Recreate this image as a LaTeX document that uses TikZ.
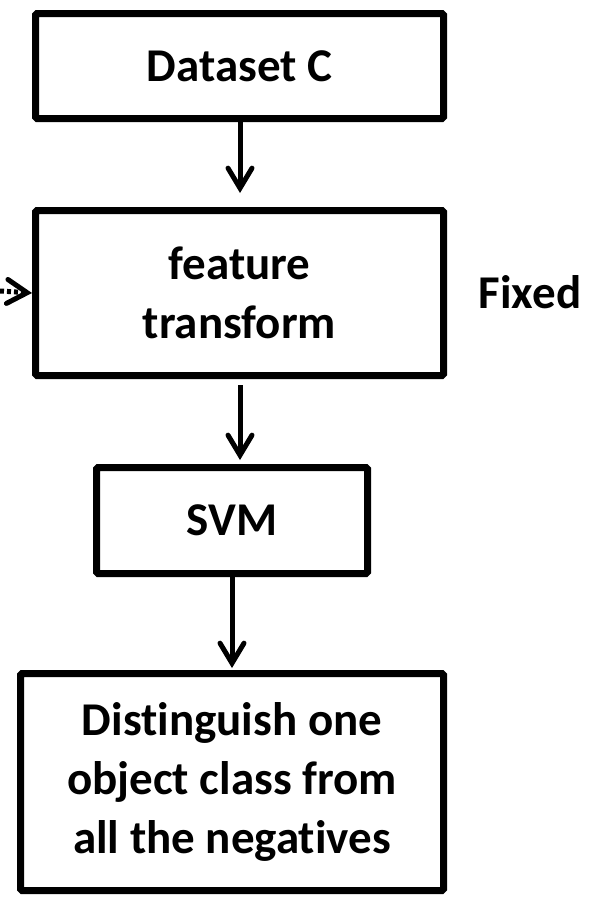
\documentclass[tikz,border=0pt]{standalone}
\usepackage{fontspec}
\setmainfont[Ligatures={NoCommon}]{Carlito}
\usepackage{tikz}
\usetikzlibrary{positioning,arrows.meta}
\tikzset{
  every node/.style={font=\fontsize{47}{59}\selectfont\bfseries},
  stage/.style={
    rectangle, draw=black, line width=7pt,
    rounded corners=1.5pt, fill=white,
    align=center, inner sep=0pt
  },
  arrow/.style={
    -{Straight Barb[length=20pt,width=24pt,line cap=round]},
    line width=5pt, draw=black
  },
  dasharrow/.style={
    arrow, dash pattern=on 4pt off 3pt
  },
}
\begin{document}
\begin{tikzpicture}[x=1pt,y=-1pt]
  \useasboundingbox (0,0) rectangle (597,897);
  \node[stage, minimum width=408pt, minimum height=105pt] (dataset) at (239.5,66) {Dataset C};
  \node[stage, minimum width=408pt, minimum height=165pt] (feat) at (239.5,293) {feature\\transform};
  \node[stage, minimum width=271pt, minimum height=106pt] (svm) at (232,520.5) {SVM};
  \node[stage, minimum width=423pt, minimum height=217pt] (result) at (232,782) {Distinguish one\\object class from\\all the negatives};
  \node (fixed) at (530,292) {Fixed};
  \coordinate (in) at (0,291);
  \coordinate (a1) at (240,193);
  \coordinate (a2s) at (240,385);
  \coordinate (a2) at (240,460);
  \coordinate (a3) at (232,668);
  \draw[arrow] (dataset.south -| a1) -- (a1);
  \draw[arrow] (a2s) -- (a2);
  \draw[arrow] (svm.south) -- (a3);
  \draw[dasharrow] (in) -- (feat.west);
\end{tikzpicture}
\end{document}
